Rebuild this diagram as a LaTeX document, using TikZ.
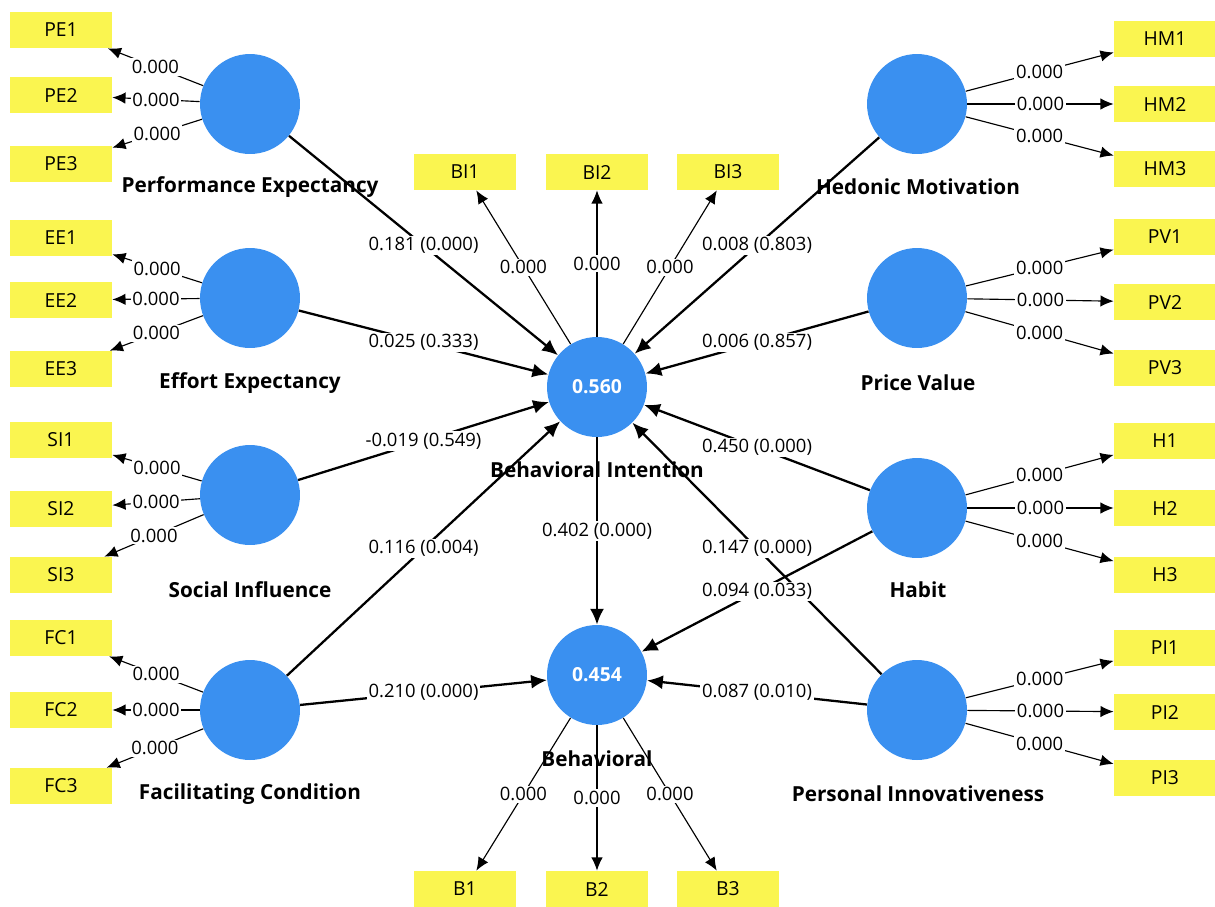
\documentclass[tikz,border=0pt]{standalone}
\usepackage{fontspec}
\setmainfont{Open Sans}
\usetikzlibrary{arrows.meta}
\definecolor{lvblue}{RGB}{58,144,240}
\definecolor{mvyellow}{RGB}{250,245,80}

\begin{document}
\begin{tikzpicture}[x = 0.02cm, y = -0.02cm,
  lv/.style = {circle, fill = lvblue, minimum size = 2cm, inner sep = 0pt, text = white, font = \fontsize{11}{13}\selectfont\bfseries},
  mv/.style = {fill = mvyellow, minimum width = 2.04cm, minimum height = 0.72cm, inner sep = 0pt, font = \fontsize{11}{13}\selectfont},
  lvname/.style = {font = \fontsize{11.8}{14}\selectfont\bfseries},
  load/.style = {-{Latex[length = 7.5pt, width = 6.5pt]}, line width = 0.65pt},
  inner/.style = {-{Latex[length = 9pt, width = 8pt]}, line width = 1.3pt},
  coef/.style = {fill = white, inner sep = 1pt, font = \fontsize{10.5}{12}\selectfont}]
%\draw[very thin, color = gray](0, 0) grid[step = 50] (1215, 907);
\useasboundingbox (0, 0) rectangle (1215, 907);
% latent variables
\node [lv] (PE) at (250, 104) {};
\node [lv] (EE) at (250, 298) {};
\node [lv] (SI) at (250, 495) {};
\node [lv] (FC) at (250, 710) {};
\node [lv] (HM) at (917, 104) {};
\node [lv] (PV) at (917, 298) {};
\node [lv] (H) at (917, 508) {};
\node [lv] (PI) at (917, 710) {};
\node [lv] (BI) at (597, 387) {0.560};
\node [lv] (B) at (597, 675) {0.454};
% indicators
\node [mv] (PE1) at (61, 30) {PE1};
\node [mv] (PE2) at (61, 95) {PE2};
\node [mv] (PE3) at (61, 164) {PE3};
\node [mv] (EE1) at (61, 238) {EE1};
\node [mv] (EE2) at (61, 300) {EE2};
\node [mv] (EE3) at (61, 369) {EE3};
\node [mv] (SI1) at (61, 440) {SI1};
\node [mv] (SI2) at (61, 509) {SI2};
\node [mv] (SI3) at (61, 575) {SI3};
\node [mv] (FC1) at (61, 638) {FC1};
\node [mv] (FC2) at (61, 710) {FC2};
\node [mv] (FC3) at (61, 786) {FC3};
\node [mv] (HM1) at (1165, 39) {HM1};
\node [mv] (HM2) at (1165, 104) {HM2};
\node [mv] (HM3) at (1165, 169) {HM3};
\node [mv] (PV1) at (1165, 237) {PV1};
\node [mv] (PV2) at (1165, 302) {PV2};
\node [mv] (PV3) at (1165, 368) {PV3};
\node [mv] (H1) at (1165, 441) {H1};
\node [mv] (H2) at (1165, 508) {H2};
\node [mv] (H3) at (1165, 575) {H3};
\node [mv] (PI1) at (1165, 648) {PI1};
\node [mv] (PI2) at (1165, 712) {PI2};
\node [mv] (PI3) at (1165, 778) {PI3};
\node [mv] (BI1) at (465, 172) {BI1};
\node [mv] (BI2) at (597, 172) {BI2};
\node [mv] (BI3) at (728, 172) {BI3};
\node [mv] (B1) at (465, 889) {B1};
\node [mv] (B2) at (597, 889) {B2};
\node [mv] (B3) at (728, 889) {B3};
% outer loadings
\draw [load] (PE) -- node [coef] {0.000} (PE1);
\draw [load] (PE) -- node [coef] {0.000} (PE2);
\draw [load] (PE) -- node [coef] {0.000} (PE3);
\draw [load] (EE) -- node [coef] {0.000} (EE1);
\draw [load] (EE) -- node [coef] {0.000} (EE2);
\draw [load] (EE) -- node [coef] {0.000} (EE3);
\draw [load] (SI) -- node [coef] {0.000} (SI1);
\draw [load] (SI) -- node [coef] {0.000} (SI2);
\draw [load] (SI) -- node [coef] {0.000} (SI3);
\draw [load] (FC) -- node [coef] {0.000} (FC1);
\draw [load] (FC) -- node [coef] {0.000} (FC2);
\draw [load] (FC) -- node [coef] {0.000} (FC3);
\draw [load] (HM) -- node [coef] {0.000} (HM1);
\draw [load] (HM) -- node [coef] {0.000} (HM2);
\draw [load] (HM) -- node [coef] {0.000} (HM3);
\draw [load] (PV) -- node [coef] {0.000} (PV1);
\draw [load] (PV) -- node [coef] {0.000} (PV2);
\draw [load] (PV) -- node [coef] {0.000} (PV3);
\draw [load] (H) -- node [coef] {0.000} (H1);
\draw [load] (H) -- node [coef] {0.000} (H2);
\draw [load] (H) -- node [coef] {0.000} (H3);
\draw [load] (PI) -- node [coef] {0.000} (PI1);
\draw [load] (PI) -- node [coef] {0.000} (PI2);
\draw [load] (PI) -- node [coef] {0.000} (PI3);
\draw [load] (BI) -- node [coef] {0.000} (BI1);
\draw [load] (BI) -- node [coef] {0.000} (BI2);
\draw [load] (BI) -- node [coef] {0.000} (BI3);
\draw [load] (B) -- node [coef] {0.000} (B1);
\draw [load] (B) -- node [coef] {0.000} (B2);
\draw [load] (B) -- node [coef] {0.000} (B3);
% path coefficients (p values)
\draw [inner] (PE) -- node [coef] {0.181 (0.000)} (BI);
\draw [inner] (EE) -- node [coef] {0.025 (0.333)} (BI);
\draw [inner] (SI) -- node [coef] {-0.019 (0.549)} (BI);
\draw [inner] (FC) -- node [coef] {0.116 (0.004)} (BI);
\draw [inner] (FC) -- node [coef] {0.210 (0.000)} (B);
\draw [inner] (HM) -- node [coef] {0.008 (0.803)} (BI);
\draw [inner] (PV) -- node [coef] {0.006 (0.857)} (BI);
\draw [inner] (H) -- node [coef] {0.450 (0.000)} (BI);
\draw [inner] (PI) -- node [coef] {0.147 (0.000)} (BI);
\draw [inner] (H) -- node [coef] {0.094 (0.033)} (B);
\draw [inner] (PI) -- node [coef] {0.087 (0.010)} (B);
\draw [inner] (BI) -- node [coef] {0.402 (0.000)} (B);
% construct names
\node [lvname] (PEname) at (250, 187) {Performance Expectancy};
\node [lvname] (EEname) at (250, 383) {Effort Expectancy};
\node [lvname] (SIname) at (250, 590) {Social Influence};
\node [lvname] (FCname) at (250, 794) {Facilitating Condition};
\node [lvname] (HMname) at (918, 187) {Hedonic Motivation};
\node [lvname] (PVname) at (918, 383) {Price Value};
\node [lvname] (Hname) at (918, 590) {Habit};
\node [lvname] (PIname) at (918, 794) {Personal Innovativeness};
\node [lvname] (BIname) at (597, 470) {Behavioral Intention};
\node [lvname] (Bname) at (597, 759) {Behavioral};
\end{tikzpicture}
\end{document}
